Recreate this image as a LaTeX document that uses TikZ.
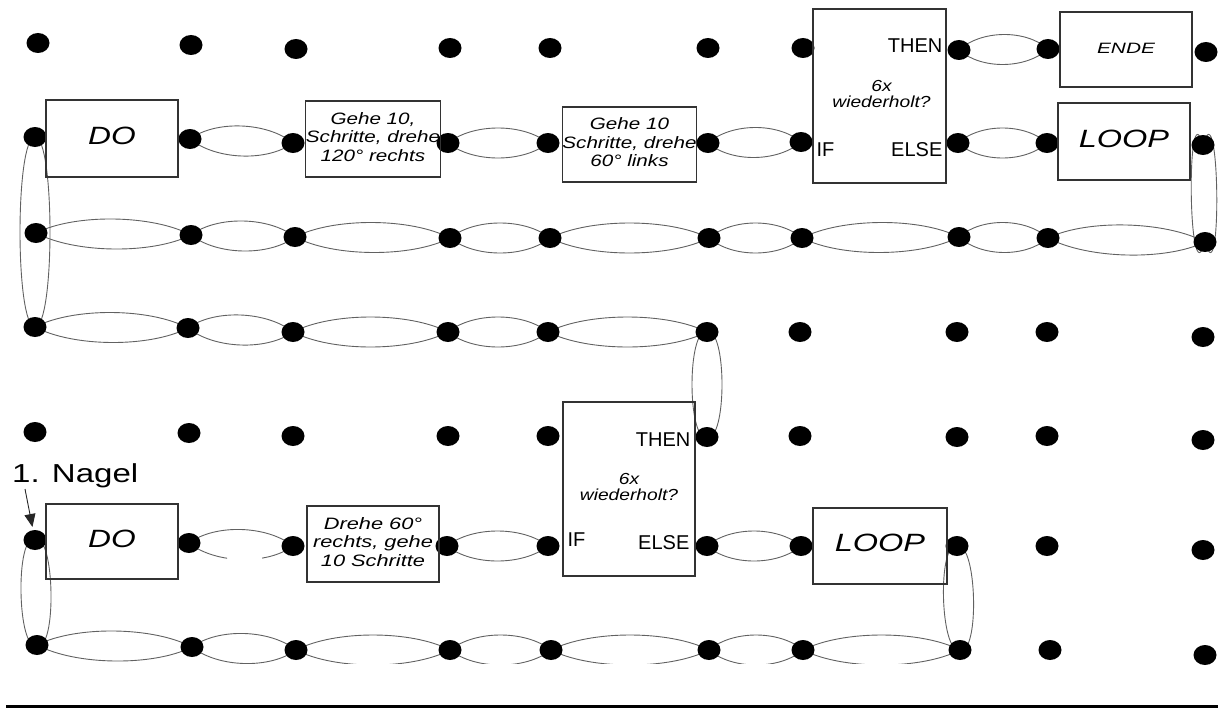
\documentclass[tikz,border=0pt]{standalone}
\usepackage{fontspec}
\setmainfont{Liberation Sans}
\usetikzlibrary{calc,shapes.geometric,arrows.meta,backgrounds}

% horizontally widened, centred text block
\newcommand\wide[2][1.27]{\scalebox{#1}[1]{\begin{tabular}{@{}c@{}}#2\end{tabular}}}

% thread wound between two nails: upper and lower half
\newcommand\threadover[2]{\draw[thread] (#1.center) .. controls ($(#1)!0.25!(#2)+(0,-20)$) and ($(#1)!0.75!(#2)+(0,-20)$) .. (#2.center);}
\newcommand\threadunder[2]{\draw[thread] (#1.center) .. controls ($(#1)!0.25!(#2)+(0,20)$) and ($(#1)!0.75!(#2)+(0,20)$) .. (#2.center);}
\newcommand\loopH[2]{\threadover{#1}{#2}\threadunder{#1}{#2}}
% vertical loop: #1 overshoot beyond the nails, #2 half width, #3 upper nail, #4 lower nail
\newcommand\loopV[4]{\draw[thread] (#3.center) .. controls ($(#3)+(-#2,-#1)$) and ($(#4)+(-#2,#1)$) .. (#4.center) .. controls ($(#4)+(#2,#1)$) and ($(#3)+(#2,-#1)$) .. (#3.center);}

\begin{document}
\begin{tikzpicture}[x=1pt,y=-1pt,
  nail/.style={ellipse,fill=black,minimum width=23pt,minimum height=20pt,inner sep=0pt},
  thread/.style={draw=black!62,line width=0.9pt},
  frame/.style={draw=black!80,line width=1.1pt,inner sep=0pt},
  big/.style={font=\fontsize{25}{28}\selectfont\itshape},
  small/.style={font=\fontsize{16.5}{18.5}\selectfont\itshape},
  cond/.style={font=\fontsize{16}{15}\selectfont\itshape},
  branch/.style={font=\fontsize{20}{24}\selectfont,inner sep=0pt}]
\useasboundingbox (0,0) rectangle (1218,709);

% nail grid
\foreach \c/\x/\y in {1/38/43,2/191/45,3/296/49,4/450/48,5/550/48,6/708/48,7/803/48,8/959/50,9/1048/49,10/1206/52}
  \node[nail] (r1c\c) at (\x,\y) {};
\foreach \c/\x/\y in {1/35/137,2/190/139,3/293/143,4/448/143,5/548/143,6/708/143,7/801/142,8/958/143,9/1047/143,10/1203/145}
  \node[nail] (r2c\c) at (\x,\y) {};
\foreach \c/\x/\y in {1/36/233,2/191/235,3/295/237,4/450/238,5/550/238,6/709/238,7/802/238,8/959/237,9/1048/238,10/1205/242}
  \node[nail] (r3c\c) at (\x,\y) {};
\foreach \c/\x/\y in {1/35/327,2/188/328,3/293/332,4/448/332,5/548/332,6/707/332,7/800/332,8/957/332,9/1047/332,10/1203/337}
  \node[nail] (r4c\c) at (\x,\y) {};
\foreach \c/\x/\y in {1/35/432,2/189/433,3/293/436,4/448/436,5/548/436,6/707/437,7/800/436,8/957/437,9/1047/436,10/1203/440}
  \node[nail] (r5c\c) at (\x,\y) {};
\foreach \c/\x/\y in {1/35/540,2/189/543,3/293/546,4/447/546,5/548/546,6/707/546,7/801/546,8/957/546,9/1047/546,10/1203/550}
  \node[nail] (r6c\c) at (\x,\y) {};
\foreach \c/\x/\y in {1/37/645,2/192/647,3/296/650,4/450/650,5/551/650,6/709/650,7/803/650,8/960/650,9/1050/650,10/1205/655}
  \node[nail] (r7c\c) at (\x,\y) {};

% upper program
\node[frame,minimum width=132pt,minimum height=77pt,big] (doA) at (112,138.5) {\wide{DO}};
\node[frame,minimum width=132pt,minimum height=76pt,small] (stepA) at (373,139) {\wide[1.25]{Gehe 10,\\Schritte, drehe\\120° rechts}};
\node[frame,minimum width=133pt,minimum height=75pt,small] (stepB) at (629.5,144.5) {\wide[1.25]{Gehe 10\\Schritte, drehe\\60° links}};
\node[frame,minimum width=133pt,minimum height=174pt] (ifA) at (879.5,96) {};
\node[cond] (askA) at ($(ifA.center)+(2,0)$) {\wide[1.2]{6x\\wiederholt?}};
\node[branch,anchor=base east] (thenA) at ($(ifA.north east)+(-4,44)$) {THEN};
\node[branch,anchor=base east] (elseA) at ($(ifA.north east)+(-4,148)$) {ELSE};
\node[branch,anchor=base west] (ifkA) at ($(ifA.north west)+(4,148)$) {IF};
\node[frame,minimum width=132pt,minimum height=75pt,font=\fontsize{15}{18}\selectfont\itshape] (endA) at (1126,49.5) {\wide[1.39]{ENDE}};
\node[frame,minimum width=132pt,minimum height=77pt,big] (loopA) at (1124,141.5) {\wide[1.3]{LOOP}};

% lower program
\node[frame,minimum width=132pt,minimum height=75pt,big] (doB) at (112,541.5) {\wide{DO}};
\node[frame,minimum width=132pt,minimum height=76pt,small] (stepC) at (373,544) {\wide[1.32]{Drehe 60°\\rechts, gehe\\10 Schritte}};
\node[frame,minimum width=132pt,minimum height=174pt] (ifB) at (629,489) {};
\node[cond] (askB) at (ifB.center) {\wide[1.2]{6x\\wiederholt?}};
\node[branch,anchor=base east] (thenB) at ($(ifB.north east)+(-5,45)$) {THEN};
\node[branch,anchor=base east] (elseB) at ($(ifB.north east)+(-6,148)$) {ELSE};
\node[branch,anchor=base west] (ifkB) at ($(ifB.north west)+(5,145)$) {IF};
\node[frame,minimum width=134pt,minimum height=76pt,big] (loopB) at (880,546) {\wide[1.3]{LOOP}};

% start marker
\node[anchor=base west,inner sep=0pt,font=\fontsize{26}{30}\selectfont] (nagel) at (12,482) {\scalebox{1.27}[1]{1. Nagel}};
\coordinate (nagelfoot) at (25,489);
\draw[draw=black!85,line width=0.9pt,shorten >=3pt,-{Triangle[length=13pt,width=11pt]}] (nagelfoot) -- (r6c1);

% the thread, behind nails and boxes
\begin{scope}[on background layer]
  \clip (0,0) rectangle (1218,663);
  \loopH{r1c8}{r1c9}
  \loopH{r2c2}{r2c3}
  \loopH{r2c4}{r2c5}
  \loopH{r2c6}{r2c7}
  \loopH{r2c8}{r2c9}
  \loopV{0}{20}{r2c1}{r4c1}
  \loopV{60}{17}{r2c10}{r3c10}
  \foreach \a/\b in {1/2,2/3,3/4,4/5,5/6,6/7,7/8,8/9,9/10}
    {\loopH{r3c\a}{r3c\b}}
  \foreach \a/\b in {1/2,2/3,3/4,4/5,5/6}
    {\loopH{r4c\a}{r4c\b}}
  \loopV{5}{20}{r4c6}{r5c6}
  \threadover{r6c2}{r6c3}
  \begin{scope}
    \clip (0,0) rectangle (227,700) (262,0) rectangle (1218,700);
    \threadunder{r6c2}{r6c3}
  \end{scope}
  \loopH{r6c4}{r6c5}
  \loopH{r6c6}{r6c7}
  \loopV{8}{20}{r6c1}{r7c1}
  \loopV{5}{20}{r6c8}{r7c8}
  \foreach \a/\b in {1/2,2/3,3/4,4/5,5/6,6/7,7/8}
    {\loopH{r7c\a}{r7c\b}}
\end{scope}

% rule below the board
\draw[line width=3pt] (6,706.5) -- (1218,706.5);
\end{tikzpicture}
\end{document}
